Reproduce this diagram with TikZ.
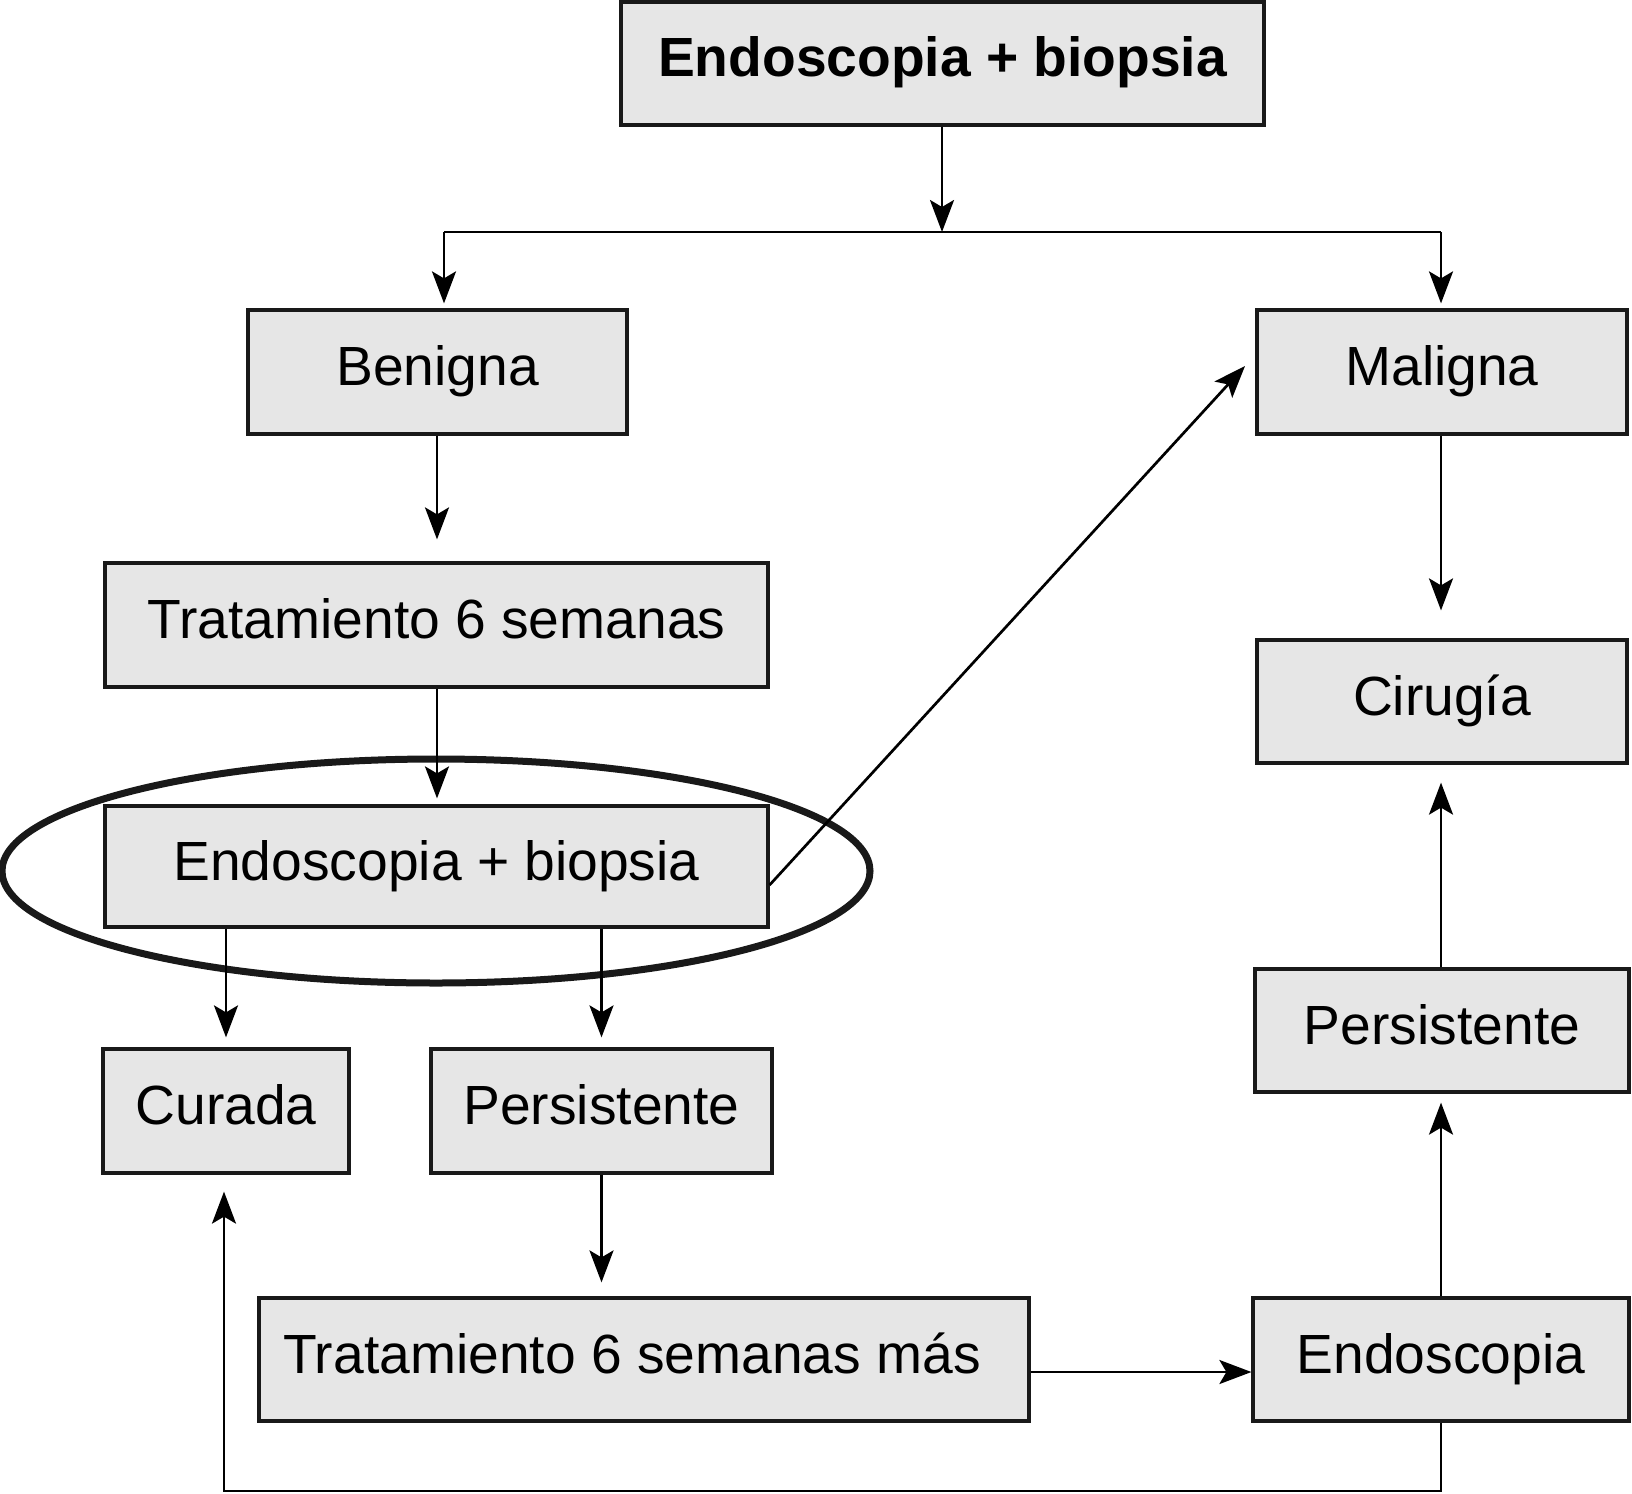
\documentclass[tikz,border=0pt]{standalone}
\usepackage{fontspec}
\setmainfont{Liberation Sans}
\usetikzlibrary{arrows.meta,calc}
\definecolor{boxfill}{HTML}{E6E6E6}
\begin{document}
\begin{tikzpicture}[x=0.5pt,y=-0.5pt,
  txt/.style={inner sep=0pt,text height=19.5pt,text depth=6pt,
    font=\fontsize{27.6}{32}\selectfont},
  box/.style={txt,draw=black!90,fill=boxfill,line width=1.6pt},
  arr/.style={line width=1.35pt,-{Stealth[length=16pt,width=12pt,inset=3.5pt]}},
  ln/.style={line width=1.35pt}]
\useasboundingbox (0,0) rectangle (1632,1493);
% boxes
\node[box,minimum width=321.5pt,minimum height=61.5pt,font=\fontsize{27.6}{32}\selectfont\bfseries] (top) at (942.5,63.5) {Endoscopia + biopsia};
\node[box,minimum width=189.5pt,minimum height=62pt] (ben) at (437.5,372) {Benigna};
\node[box,minimum width=185pt,minimum height=62pt] (mal) at (1442,372) {Maligna};
\node[box,minimum width=331.5pt,minimum height=62pt] (trat) at (436.5,625) {Tratamiento 6 semanas};
\node[box,minimum width=331.5pt,minimum height=60.5pt] (endo) at (436.5,866.5) {Endoscopia + biopsia};
\node[box,minimum width=123pt,minimum height=62pt] (cur) at (226,1111) {Curada};
\node[box,minimum width=170.5pt,minimum height=62pt] (perL) at (601.5,1111) {Persistente};
\node[box,minimum width=385pt,minimum height=61.5pt] (tratm) at (644,1359.5) {};
\node[txt] (tratmtxt) at (632,1359.5) {Tratamiento 6 semanas más};
\node[box,minimum width=188pt,minimum height=61.5pt] (endR) at (1441,1359.5) {Endoscopia};
\node[box,minimum width=187pt,minimum height=61.5pt] (perR) at (1442,1030.5) {Persistente};
\node[box,minimum width=185pt,minimum height=61.5pt] (cir) at (1442,701.5) {Cirugía};
% ellipse
\draw[line width=3.5pt,black!90] (436,871) ellipse [x radius=434, y radius=112];
% connectors
\coordinate (j) at (942,232);
\coordinate (jl) at (444,232);
\coordinate (jr) at (1441,232);
\draw[arr] (top.south -| j) -- (j);
\draw[ln] (jl) -- (jr);
\draw[arr,shorten >=2.5pt] (jl) -- (jl |- ben.north);
\draw[arr,shorten >=2.5pt] (jr) -- (jr |- mal.north);
\draw[arr,shorten >=11pt] (ben.south -| 437,0) -- (trat.north -| 437,0);
\draw[arr,shorten >=3pt] (trat.south -| 437,0) -- (endo.north -| 437,0);
\draw[arr,shorten >=5pt] (endo.south -| cur.north) -- (cur.north);
\draw[arr,shorten >=5pt] (endo.south -| perL.north) -- (perL.north);
\draw[arr,shorten >=7pt] (perL.south) -- (perL.south |- tratm.north);
\draw[arr] (tratm.east |- 0,1372) -- (endR.west |- 0,1372);
\draw[arr,shorten >=4.5pt] (endR.north -| 1441,0) -- (perR.south -| 1441,0);
\draw[arr,shorten >=9pt] (perR.north -| 1441,0) -- (cir.south -| 1441,0);
\draw[arr,shorten >=14pt] (mal.south -| 1441,0) -- (cir.north -| 1441,0);
\coordinate (b1) at (1441,1491);
\coordinate (b2) at (224,1491);
\draw[arr,shorten >=8.5pt] (endR.south) -- (b1) -- (b2) -- (b2 |- cur.south);
\coordinate (dtip) at (1245,366);
\draw[arr] (endo.east |- 0,885) -- (dtip);
\end{tikzpicture}
\end{document}
